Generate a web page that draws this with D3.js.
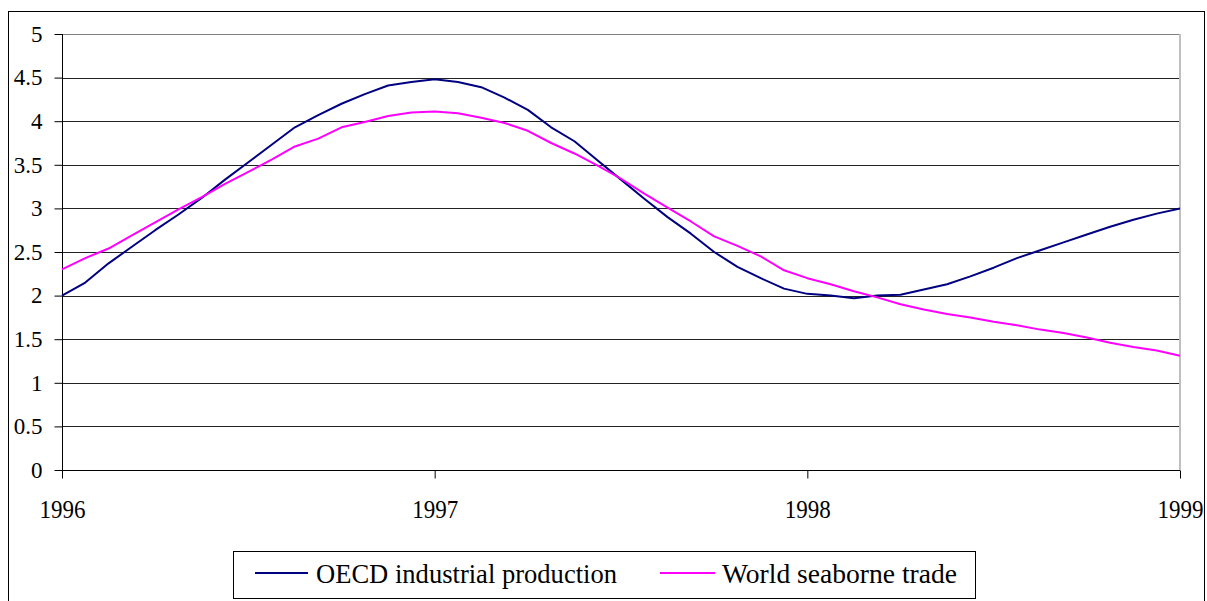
<!DOCTYPE html>
<html>
<head>
<meta charset="utf-8">
<script src="https://cdn.jsdelivr.net/npm/d3@7"></script>
<style>
  body { margin: 0; background: #fff; }
  svg text { fill: #000; }
</style>
</head>
<body>
<script>
// 49 points, 16 per year, labels only at the year marks
var yearLabels = ['1996', '1997', '1998', '1999'];
var yearIndex = [0, 16, 32, 48];
var yTicks = [0, 0.5, 1, 1.5, 2, 2.5, 3, 3.5, 4, 4.5, 5];
var seriesNames = ['OECD industrial production', 'World seaborne trade'];

var oecd = [2.00, 2.15, 2.37, 2.56, 2.75, 2.93, 3.12, 3.33, 3.53, 3.73, 3.93, 4.07, 4.20,
  4.31, 4.41, 4.45, 4.48, 4.45, 4.39, 4.27, 4.13, 3.93, 3.77, 3.55, 3.33, 3.11, 2.90,
  2.71, 2.50, 2.33, 2.20, 2.08, 2.02, 2.00, 1.97, 2.00, 2.01, 2.07, 2.13, 2.22, 2.32,
  2.43, 2.52, 2.61, 2.70, 2.79, 2.87, 2.94, 3.00];
var seaborne = [2.30, 2.43, 2.54, 2.69, 2.84, 2.99, 3.13, 3.28, 3.42, 3.56, 3.71, 3.80, 3.93,
  3.99, 4.06, 4.10, 4.11, 4.09, 4.04, 3.98, 3.89, 3.75, 3.63, 3.49, 3.34, 3.17, 3.01,
  2.85, 2.68, 2.57, 2.45, 2.29, 2.20, 2.13, 2.05, 1.98, 1.90, 1.84, 1.79, 1.75, 1.70,
  1.66, 1.61, 1.57, 1.52, 1.46, 1.41, 1.37, 1.31];

var colors = ['#000080', '#ff00ff'];
var serif = "'Liberation Serif', 'Times New Roman', Times, Tinos, 'Noto Serif', 'DejaVu Serif', FreeSerif, serif";

var svg = d3.select('body').append('svg')
  .attr('width', 1207)
  .attr('height', 601)

// chart frame
svg.append('rect')
  .attr('x', 8.5).attr('y', 11.5)
  .attr('width', 1196).attr('height', 620)
  .attr('fill', 'none').attr('stroke', '#000')

var x = d3.scaleLinear().domain([0, 48]).range([62, 1180]);
var y = d3.scaleLinear().domain([0, 5]).range([470, 34]);

// gridlines
svg.append('g').selectAll('line')
  .data(yTicks.slice(1))
  .enter().append('line')
  .attr('x1', 62).attr('x2', 1180)
  .attr('y1', function(d) { return Math.round(y(d)) + 0.5 })
  .attr('y2', function(d) { return Math.round(y(d)) + 0.5 })
  .attr('stroke', function(d) { return d == 5 ? '#808080' : '#222' })

// right border of plot area
svg.append('line')
  .attr('x1', 1180).attr('x2', 1180)
  .attr('y1', 34).attr('y2', 470)
  .attr('stroke', '#c0c0c0').attr('stroke-width', 2)

var yAxis = d3.axisLeft(y)
  .tickValues(yTicks)
  .tickSize(8)
  .tickPadding(12)
  .tickFormat(function(d) { return String(d) });

var gy = svg.append('g').attr('transform', 'translate(62.5,0)').call(yAxis)
  .attr('font-family', serif);
gy.select('.domain').attr('d', 'M0,34V478').attr('stroke', '#000');
gy.selectAll('.tick line').attr('stroke', '#000');
gy.selectAll('.tick text')
  .attr('font-size', 23)
  .attr('font-family', serif);

var xAxis = d3.axisBottom(x)
  .tickValues(yearIndex)
  .tickSize(8)
  .tickPadding(22)
  .tickFormat(function(d, i) { return yearLabels[i] });

var gx = svg.append('g').attr('transform', 'translate(0,470.5)').call(xAxis)
  .attr('font-family', serif);
gx.select('.domain').attr('d', 'M62,0H1180').attr('stroke', '#000');
gx.selectAll('.tick line').attr('stroke', '#000');
gx.selectAll('.tick text')
  .attr('font-size', 25)
  .attr('font-family', serif)
  .attr('textLength', 46)
  .attr('lengthAdjust', 'spacingAndGlyphs');

var line = d3.line()
  .x(function(d, i) { return x(i) })
  .y(function(d) { return y(d) });

svg.selectAll('path.series')
  .data([oecd, seaborne])
  .enter().append('path')
  .attr('class', 'series')
  .attr('d', line)
  .attr('fill', 'none')
  .attr('stroke', function(d, i) { return colors[i] })
  .attr('stroke-width', 2)
  .attr('stroke-linejoin', 'round')

// legend
var legend = svg.append('g');
legend.append('rect')
  .attr('x', 233.5).attr('y', 551.5)
  .attr('width', 742).attr('height', 47)
  .attr('fill', '#fff').attr('stroke', '#000')

var legendItems = [
  { x1: 255, x2: 308, tx: 316, tw: 301 },
  { x1: 660, x2: 715, tx: 722, tw: 235 }
];

legend.selectAll('line.key')
  .data(legendItems)
  .enter().append('line')
  .attr('x1', function(d) { return d.x1 })
  .attr('x2', function(d) { return d.x2 })
  .attr('y1', 573).attr('y2', 573)
  .attr('stroke', function(d, i) { return colors[i] })
  .attr('stroke-width', 2)

legend.selectAll('text')
  .data(legendItems)
  .enter().append('text')
  .attr('x', function(d) { return d.tx })
  .attr('y', 583)
  .attr('font-size', 28)
  .attr('font-family', serif)
  .attr('textLength', function(d) { return d.tw })
  .attr('lengthAdjust', 'spacingAndGlyphs')
  .text(function(d, i) { return seriesNames[i] })
</script>
</body>
</html>
